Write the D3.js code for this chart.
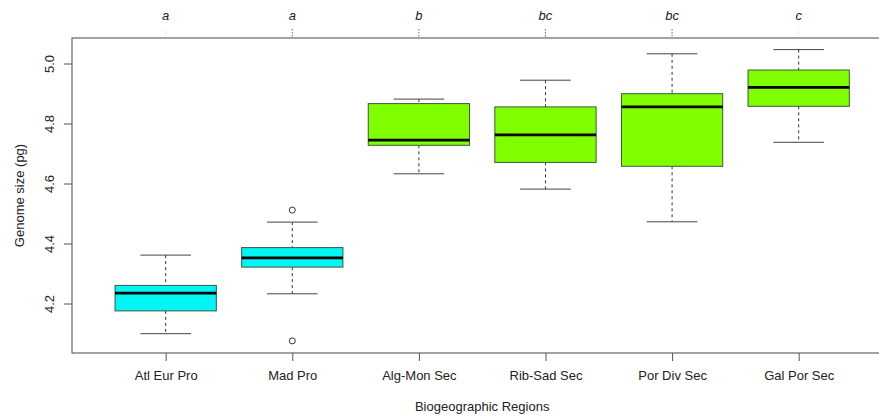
<!DOCTYPE html>
<html><head><meta charset="utf-8">
<script src="https://cdn.jsdelivr.net/npm/d3@7"></script>
<style>body{margin:0;background:#fff;} svg{display:block;font-family:"Liberation Sans",Arial,sans-serif;}</style>
</head><body>
<svg id="c" width="879" height="418"></svg>
<script>
const categories = ["Atl Eur Pro","Mad Pro","Alg-Mon Sec","Rib-Sad Sec","Por Div Sec","Gal Por Sec"];
const lowerWhisker = [4.101, 4.234, 4.634, 4.583, 4.474, 4.739];
const q1Values     = [4.177, 4.323, 4.729, 4.672, 4.659, 4.859];
const medians      = [4.236, 4.354, 4.746, 4.764, 4.857, 4.922];
const q3Values     = [4.262, 4.388, 4.868, 4.857, 4.901, 4.980];
const upperWhisker = [4.363, 4.473, 4.883, 4.946, 5.034, 5.048];
const outliers     = [[], [4.513, 4.077], [], [], [], []];
const groupLetters = ["a","a","b","bc","bc","c"];
const fillColors   = ["#00f5f5","#00f5f5","#80ff00","#80ff00","#80ff00","#80ff00"];
const yTicks = [4.2, 4.4, 4.6, 4.8, 5.0];

const svg = d3.select("#c");
const L = 72, T = 38, B = 353;
const unit = 126.6;
const x = d3.scaleLinear().domain([0.26, 6.74]).range([L, L + 6.48*unit]);
const R = x(6.74);
const y = d3.scaleLinear().domain([4.2, 5.0]).range([304, 64]);
const bw = 0.8*unit, cw = 0.4*unit;

// letters + dotted ticks above the frame
categories.forEach((c,i)=>{
  svg.append("line").attr("x1",x(i+1)).attr("x2",x(i+1)).attr("y1",29).attr("y2",T)
    .attr("stroke", (i===0||i===5)?"#ddd":"#444").attr("stroke-width",0.8).attr("stroke-dasharray","1.5,1.5");
  svg.append("text").attr("x",x(i+1)).attr("y",20).attr("text-anchor","middle")
    .attr("font-size",13).attr("font-style","italic").attr("fill","#222").text(groupLetters[i]);
});

// boxes
categories.forEach((c,i)=>{
  const cx = x(i+1);
  const g = svg.append("g");
  g.append("line").attr("x1",cx).attr("x2",cx).attr("y1",y(upperWhisker[i])).attr("y2",y(q3Values[i]))
    .attr("stroke","#333").attr("stroke-width",1).attr("stroke-dasharray","3,3");
  g.append("line").attr("x1",cx).attr("x2",cx).attr("y1",y(q1Values[i])).attr("y2",y(lowerWhisker[i]))
    .attr("stroke","#333").attr("stroke-width",1).attr("stroke-dasharray","3,3");
  [upperWhisker[i], lowerWhisker[i]].forEach(v=>{
    g.append("line").attr("x1",cx-cw/2).attr("x2",cx+cw/2).attr("y1",y(v)).attr("y2",y(v))
      .attr("stroke","#444").attr("stroke-width",1);
  });
  g.append("rect").attr("x",cx-bw/2).attr("width",bw).attr("y",y(q3Values[i]))
    .attr("height",y(q1Values[i])-y(q3Values[i])).attr("fill",fillColors[i])
    .attr("stroke","#3a5a3a").attr("stroke-width",1);
  g.append("line").attr("x1",cx-bw/2).attr("x2",cx+bw/2).attr("y1",y(medians[i])).attr("y2",y(medians[i]))
    .attr("stroke","#000").attr("stroke-width",2.8);
  outliers[i].forEach(v=>{
    g.append("circle").attr("cx",cx).attr("cy",y(v)).attr("r",3).attr("fill","none")
      .attr("stroke","#333").attr("stroke-width",1);
  });
});

// frame
svg.append("rect").attr("x",L).attr("y",T).attr("width",R-L).attr("height",B-T)
  .attr("fill","none").attr("stroke","#666").attr("stroke-width",1.2);

// y axis
const yAxis = d3.axisLeft(y).tickValues(yTicks).tickSize(8).tickFormat(d3.format(".1f"));
const ya = svg.append("g").attr("transform",`translate(${L},0)`).call(yAxis);
ya.select(".domain").remove();
ya.selectAll(".tick line").attr("stroke","#555");
ya.selectAll(".tick").attr("transform",null).each(function(d){
  d3.select(this).select("line").attr("y1",y(d)).attr("y2",y(d)).attr("x2",-8);
  d3.select(this).select("text").attr("font-size",13).attr("fill","#222")
    .attr("text-anchor","middle").attr("transform","rotate(-90)")
    .attr("x",-y(d)).attr("y",-18).attr("dy","0");
});

// x axis
const xAxis = d3.axisBottom(x).tickValues(d3.range(1,7)).tickSize(8).tickFormat(d=>categories[d-1]);
const xa = svg.append("g").attr("transform",`translate(0,${B})`).call(xAxis);
xa.select(".domain").remove();
xa.selectAll(".tick line").attr("stroke","#555");
xa.selectAll(".tick text").attr("font-size",13).attr("fill","#222").attr("y",18).attr("dy","0.71em");

// titles
svg.append("text").attr("x",(x(3)+x(4))/2).attr("y",411).attr("text-anchor","middle")
  .attr("font-size",13).attr("fill","#222").text("Biogeographic Regions");
svg.append("text").attr("transform",`translate(24,${(T+B)/2}) rotate(-90)`).attr("text-anchor","middle")
  .attr("font-size",13).attr("fill","#222").text("Genome size (pg)");
</script>
</body></html>
